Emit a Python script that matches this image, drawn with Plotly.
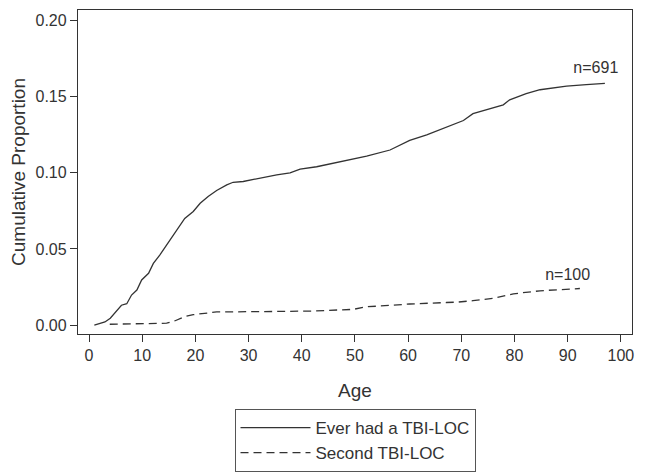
import plotly.graph_objects as go

# ages / cumulative proportion
age_ever = [1, 3, 4, 4.9, 6.1, 7.1, 8, 9, 9.9, 11.2, 12.1, 13.3, 14.6, 15.8, 17.1, 18, 19.6, 20.9,
            22.4, 24, 25.9, 27.1, 29, 32.1, 35.3, 37.8, 39.7, 42.8, 46, 49, 52.2, 56.6, 60.3, 63.5,
            66.6, 70.4, 72.2, 75, 77.9, 79.1, 82.2, 84.8, 89.8, 93.5, 97]
prop_ever = [0.0, 0.002, 0.0045, 0.008, 0.013, 0.014, 0.0197, 0.023, 0.0296, 0.034, 0.0405, 0.046,
             0.0526, 0.059, 0.0658, 0.070, 0.0746, 0.080, 0.0845, 0.0884, 0.0921, 0.0938, 0.0943,
             0.0965, 0.0987, 0.100, 0.1024, 0.104, 0.1065, 0.1086, 0.111, 0.115, 0.1213, 0.125,
             0.129, 0.1344, 0.1389, 0.1415, 0.1447, 0.148, 0.152, 0.1546, 0.157, 0.158, 0.1588]

age_second = [3.9, 14.6, 16.2, 18, 19.6, 22.1, 24, 32.1, 42.1, 49.7, 52.2, 54.7, 60.3, 67.2, 69.1,
              72.2, 76, 79.8, 84.8, 92.3]
prop_second = [0.0005, 0.0012, 0.0028, 0.0055, 0.0068, 0.0081, 0.0086, 0.0088, 0.0092, 0.0103,
               0.012, 0.0125, 0.0138, 0.0148, 0.015, 0.016, 0.0175, 0.0205, 0.0225, 0.024]

n_labels = ['n=691', 'n=100']
label_age = [95.3, 90]
label_prop = [0.168, 0.0325]

ink = '#333333'

fig = go.Figure()
fig.add_trace(go.Scatter(x=age_ever, y=prop_ever, mode='lines',
                         line=dict(color=ink, width=1.3),
                         name='Ever had a TBI-LOC'))
fig.add_trace(go.Scatter(x=age_second, y=prop_second, mode='lines',
                         line=dict(color=ink, width=1.3, dash='8px,5px'),
                         name='Second TBI-LOC'))
fig.add_trace(go.Scatter(x=label_age, y=label_prop, mode='text', text=n_labels,
                         textfont=dict(size=16, color=ink), showlegend=False,
                         hoverinfo='skip'))

# page body has an 8px margin, so the figure is shrunk by that much
fig.update_layout(
    width=637, height=467,
    margin=dict(l=70, r=13, t=2, b=141),
    paper_bgcolor='white', plot_bgcolor='white',
    font=dict(family='Liberation Sans, Arial, sans-serif', size=16, color=ink),
    xaxis=dict(range=[-2.07, 102.1], tickvals=list(range(0, 101, 10)),
               showgrid=False, zeroline=False, showline=True, mirror=True,
               linecolor=ink, linewidth=1.3, ticks='outside', ticklen=7,
               tickcolor=ink, title=dict(text='Age', standoff=20)),
    yaxis=dict(range=[-0.0059, 0.207], tickvals=[0, 0.05, 0.10, 0.15, 0.20],
               tickformat='.2f', showgrid=False, zeroline=False, showline=True,
               mirror=True, linecolor=ink, linewidth=1.3, ticks='outside',
               ticklen=7, tickcolor=ink,
               title=dict(text='Cumulative Proportion', standoff=10)),
    legend=dict(x=0.5, xanchor='center', y=-0.2315, yanchor='top',
                bordercolor='#555555', borderwidth=1, font=dict(size=17),
                itemwidth=70, tracegroupgap=0),
)

fig.write_html('out.html')
